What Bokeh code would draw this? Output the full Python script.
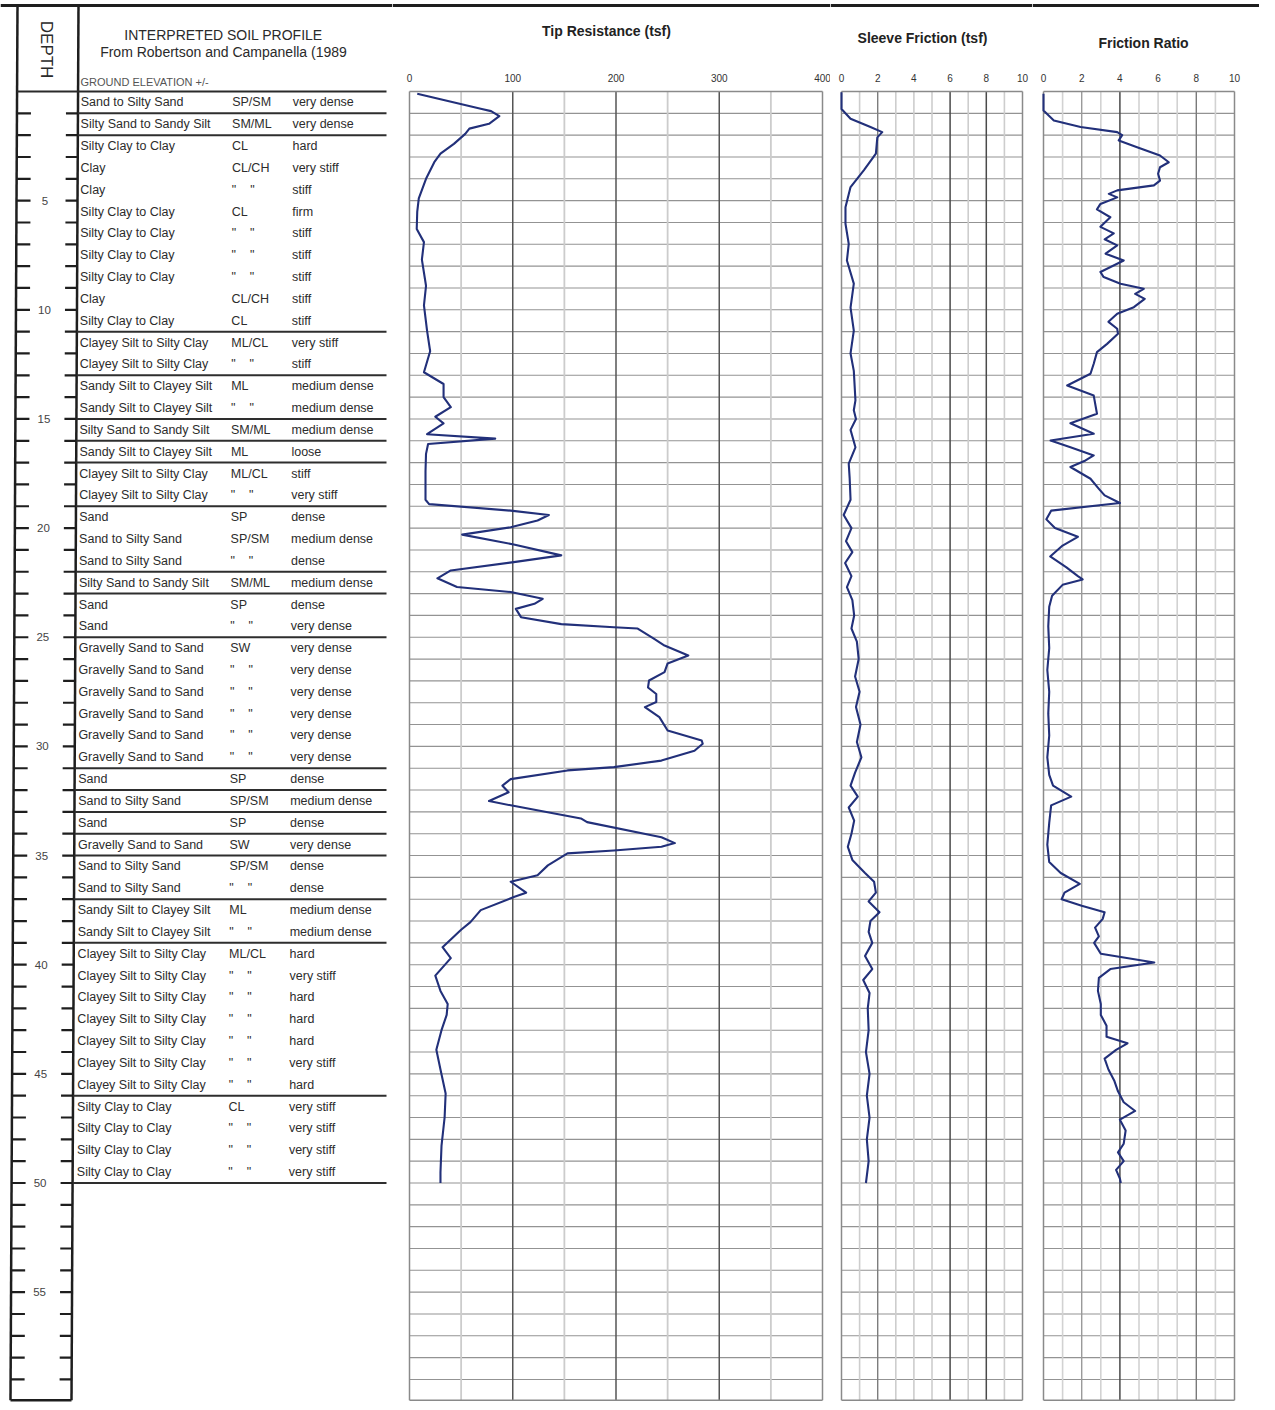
import math
from bokeh.plotting import figure
from bokeh.layouts import row
from bokeh.models import Range1d
from bokeh.core.properties import value
from bokeh.embed import file_html
from bokeh.resources import INLINE

# ------------------------------------------------------------------ data
DIT = '"\u00a0\u00a0\u00a0\u00a0"'
soil_desc = [
    "Sand to Silty Sand", "Silty Sand to Sandy Silt", "Silty Clay to Clay", "Clay", "Clay",
    "Silty Clay to Clay", "Silty Clay to Clay", "Silty Clay to Clay", "Silty Clay to Clay", "Clay",
    "Silty Clay to Clay", "Clayey Silt to Silty Clay", "Clayey Silt to Silty Clay",
    "Sandy Silt to Clayey Silt", "Sandy Silt to Clayey Silt", "Silty Sand to Sandy Silt",
    "Sandy Silt to Clayey Silt", "Clayey Silt to Silty Clay", "Clayey Silt to Silty Clay",
    "Sand", "Sand to Silty Sand", "Sand to Silty Sand", "Silty Sand to Sandy Silt", "Sand", "Sand",
    "Gravelly Sand to Sand", "Gravelly Sand to Sand", "Gravelly Sand to Sand", "Gravelly Sand to Sand",
    "Gravelly Sand to Sand", "Gravelly Sand to Sand", "Sand", "Sand to Silty Sand", "Sand",
    "Gravelly Sand to Sand", "Sand to Silty Sand", "Sand to Silty Sand",
    "Sandy Silt to Clayey Silt", "Sandy Silt to Clayey Silt",
    "Clayey Silt to Silty Clay", "Clayey Silt to Silty Clay", "Clayey Silt to Silty Clay",
    "Clayey Silt to Silty Clay", "Clayey Silt to Silty Clay", "Clayey Silt to Silty Clay",
    "Clayey Silt to Silty Clay", "Silty Clay to Clay", "Silty Clay to Clay", "Silty Clay to Clay",
    "Silty Clay to Clay",
]
soil_uscs = [
    "SP/SM", "SM/ML", "CL", "CL/CH", DIT, "CL", DIT, DIT, DIT, "CL/CH",
    "CL", "ML/CL", DIT, "ML", DIT, "SM/ML", "ML", "ML/CL", DIT, "SP",
    "SP/SM", DIT, "SM/ML", "SP", DIT, "SW", DIT, DIT, DIT, DIT,
    DIT, "SP", "SP/SM", "SP", "SW", "SP/SM", DIT, "ML", DIT, "ML/CL",
    DIT, DIT, DIT, DIT, DIT, DIT, "CL", DIT, DIT, DIT,
]
soil_cons = [
    "very dense", "very dense", "hard", "very stiff", "stiff", "firm", "stiff", "stiff", "stiff", "stiff",
    "stiff", "very stiff", "stiff", "medium dense", "medium dense", "medium dense", "loose", "stiff",
    "very stiff", "dense", "medium dense", "dense", "medium dense", "dense", "very dense",
    "very dense", "very dense", "very dense", "very dense", "very dense", "very dense", "dense",
    "medium dense", "dense", "very dense", "dense", "dense", "medium dense", "medium dense",
    "hard", "very stiff", "hard", "hard", "hard", "very stiff", "hard",
    "very stiff", "very stiff", "very stiff", "very stiff",
]
layer_breaks = [1, 2, 11, 13, 15, 16, 17, 19, 22, 23, 25, 31, 32, 33, 34, 35, 37, 39, 46, 50]
depth_ticks = list(range(1, 60))
depth_labels = [5, 10, 15, 20, 25, 30, 35, 40, 45, 50, 55]

tip_ticks = [0, 100, 200, 300, 400]
sf_ticks = [0, 2, 4, 6, 8, 10]
fr_ticks = [0, 2, 4, 6, 8, 10]

tip_depth = [0.1, 0.8, 0.9, 1.13, 1.48, 1.7, 1.94, 2.4, 2.85, 3.24, 4.0, 4.9, 5.5, 6.3, 6.9, 7.7,
             8.9, 9.8, 10.95, 11.9, 12.86, 13.4, 14.0, 14.46, 14.9, 15.2, 15.7, 15.9, 16.15, 16.6,
             17.4, 18.7, 18.9, 19.2, 19.4, 19.65, 19.96, 20.3, 20.75, 21.25, 21.56, 21.94, 22.3,
             22.7, 22.93, 23.24, 23.47, 23.7, 24.08, 24.4, 24.54, 24.6, 25.07, 25.38, 25.84, 26.2,
             26.6, 26.98, 27.3, 27.6, 27.97, 28.2, 28.66, 29.27, 29.73, 29.88, 30.2, 30.65, 30.95,
             31.1, 31.5, 31.8, 32.1, 32.5, 32.7, 33.3, 33.47, 34.16, 34.43, 34.6, 34.77, 34.9,
             35.45, 35.9, 36.2, 36.7, 36.9, 37.5, 38.05, 38.4, 39.2, 39.7, 40.5, 41.2, 41.8, 42.3,
             43.0, 43.9, 44.8, 45.9, 47.0, 48.3, 49.5, 50.0]
tip_tsf = [7.5, 70, 79, 87, 77, 58, 54, 43, 30, 24, 16, 9, 7.5, 7, 14, 12,
           16, 14, 17, 20, 14, 33, 33, 40, 25, 33, 17, 83, 18, 16,
           15.5, 15.5, 19, 98, 135, 124, 98, 51, 101, 147, 101, 40, 27,
           46, 98, 129, 121, 103, 108, 147, 198, 221, 237, 247, 270, 250,
           247, 232, 231, 239, 239, 228, 242, 250, 283, 284, 276, 244, 198,
           153, 98, 90, 96, 77, 98, 166, 172, 244, 257, 244, 198, 153,
           134, 124, 98, 113, 101, 69, 59, 50, 32, 40, 25, 30, 37, 36,
           31, 26, 30, 35, 34, 31, 30, 30]

sf_depth = [0.03, 0.8, 1.25, 1.63, 1.86, 2.1, 2.85, 3.6, 4.38, 5.3, 6.06, 6.98, 7.74, 8.8, 9.9,
            10.95, 12.0, 12.8, 14.15, 14.6, 15.0, 15.5, 16.3, 17.05, 17.7, 18.7, 19.4, 20.0,
            20.6, 21.1, 21.6, 22.2, 22.7, 23.3, 24.0, 24.6, 25.2, 26.0, 26.8, 27.5, 28.2, 29.0,
            29.8, 30.5, 31.2, 31.8, 32.3, 32.8, 33.4, 34.0, 34.6, 35.2, 35.8, 36.2, 36.7, 37.1,
            37.6, 38.0, 38.5, 39.0, 39.6, 40.2, 40.7, 41.3, 42.0, 43.0, 44.0, 45.0, 46.0, 47.0,
            48.0, 49.0, 50.0]
sf_tsf = [0, 0, 0.5, 1.6, 2.25, 1.98, 1.9, 1.24, 0.5, 0.22, 0.22, 0.4, 0.3, 0.68, 0.5,
          0.68, 0.5, 0.68, 0.77, 0.68, 0.8, 0.5, 0.77, 0.4, 0.45, 0.5, 0.12, 0.55,
          0.25, 0.6, 0.2, 0.55, 0.3, 0.6, 0.7, 0.55, 0.85, 0.95, 0.75, 1.0, 0.8, 1.05,
          0.85, 1.1, 0.75, 0.5, 0.9, 0.4, 0.7, 0.55, 0.35, 0.6, 1.3, 1.8, 1.9, 1.5,
          2.1, 1.6, 1.5, 1.7, 1.3, 1.7, 1.2, 1.55, 1.45, 1.5, 1.35, 1.55, 1.4, 1.55,
          1.4, 1.5, 1.35]

fr_depth = [0.1, 0.87, 1.33, 1.63, 1.86, 2.0, 2.24, 2.55, 2.93, 3.24, 3.47, 3.77, 4.08, 4.3,
            4.53, 4.69, 4.85, 5.15, 5.4, 5.76, 6.2, 6.5, 6.77, 7.05, 7.43, 7.74, 8.27, 8.5,
            8.81, 9.04, 9.27, 9.5, 9.88, 10.18, 10.55, 10.87, 11.1, 11.56, 11.94, 12.47, 12.93,
            13.47, 13.93, 14.76, 15.2, 15.68, 15.99, 16.3, 16.67, 16.9, 17.2, 17.74, 18.2, 18.5,
            18.85, 19.2, 19.6, 20.0, 20.4, 20.8, 21.3, 21.8, 22.2, 22.35, 22.6, 23.1, 23.6, 24.5,
            25.5, 26.5, 27.5, 28.5, 29.5, 30.5, 31.3, 31.8, 32.3, 32.7, 33.5, 34.5, 35.3, 35.8,
            36.3, 36.7, 37.0, 37.3, 37.6, 37.9, 38.3, 38.7, 39.0, 39.5, 39.9, 40.2, 40.6, 41.2,
            41.8, 42.3, 42.8, 43.3, 43.6, 43.9, 44.3, 44.8, 45.3, 45.8, 46.3, 46.7, 47.1, 47.6,
            48.2, 48.6, 49.0, 49.4, 49.8, 50.0]
fr_pct = [0, 0, 0.54, 1.94, 3.86, 4.12, 3.94, 4.9, 6.1, 6.56, 6.1, 6.0, 6.1, 5.78,
          3.86, 3.42, 3.86, 2.98, 2.8, 3.5, 2.98, 3.68, 3.2, 3.86, 3.25, 4.2, 2.98, 3.15,
          4.03, 5.25, 4.8, 5.3, 4.73, 3.86, 3.4, 3.86, 3.9, 3.33, 2.8, 2.63, 2.46,
          1.24, 2.63, 2.8, 1.41, 2.63, 0.37, 1.41, 2.63, 2.2, 1.41, 2.46, 2.9, 3.2,
          4.0, 0.4, 0.15, 0.6, 1.8, 1.0, 0.35, 1.2, 1.8, 2.05, 1.0, 0.45, 0.3, 0.25,
          0.3, 0.2, 0.3, 0.25, 0.3, 0.2, 0.3, 0.5, 1.45, 0.4, 0.3, 0.2, 0.3, 0.9,
          1.9, 1.1, 0.95, 2.0, 3.2, 3.1, 2.7, 2.9, 2.65, 3.0, 5.8, 3.5, 2.9, 2.85,
          3.0, 3.0, 3.3, 3.3, 4.4, 3.8, 3.2, 3.4, 3.7, 3.9, 4.2, 4.8, 4.0, 4.3,
          4.2, 3.9, 4.2, 3.8, 4.0, 4.05]

# ------------------------------------------------------------------ styling
FONT = value("Liberation Sans")
PX_FT = 21.83                      # pixels per foot of depth
D_TOP = -91 / PX_FT                # canvas top
H = 1402
D_BOT = (H - 91) / PX_FT           # canvas bottom
TOPLINE = -86 / PX_FT
FRAME_BOT = 59.95
CURVE = "#22307a"
HGRID = "#939393"


def make_fig(width, x0, x1):
    p = figure(width=width, height=H, x_range=Range1d(x0, x1), y_range=Range1d(D_BOT, D_TOP),
               output_backend="svg", toolbar_location=None, min_border=0,
               x_axis_location=None, y_axis_location=None)
    p.outline_line_color = None
    p.grid.visible = False
    p.background_fill_color = "white"
    p.border_fill_color = "white"
    p.segment(x0=[x0], x1=[x1], y0=[TOPLINE], y1=[TOPLINE], line_color="#1e1e1e", line_width=3)
    return p


# ------------------------------------------------------------------ left: depth + soil profile
# x in this figure is measured in page-like units (0 .. 392)
left = make_fig(392, 0, 392)


def shift(d, amount):
    return -amount * (d - TOPLINE) / (FRAME_BOT - TOPLINE)


def L(d):
    return 17 + shift(d, 7)


def R(d):
    return 78 + shift(d, 7)


# depth column frame
left.segment(x0=[L(TOPLINE), R(TOPLINE), L(FRAME_BOT)], x1=[L(FRAME_BOT), R(FRAME_BOT), R(FRAME_BOT)],
             y0=[TOPLINE, TOPLINE, FRAME_BOT], y1=[FRAME_BOT, FRAME_BOT, FRAME_BOT],
             line_color="#1e1e1e", line_width=2.5)
# header bottom line
left.segment(x0=[L(0)], x1=[386], y0=[0], y1=[0], line_color="#2a2a2a", line_width=2)
# ticks
left.segment(x0=[L(d) for d in depth_ticks], x1=[L(d) + 14 for d in depth_ticks],
             y0=depth_ticks, y1=depth_ticks, line_color="#1e1e1e", line_width=2.2)
left.segment(x0=[R(d) - 12 for d in depth_ticks], x1=[R(d) for d in depth_ticks],
             y0=depth_ticks, y1=depth_ticks, line_color="#1e1e1e", line_width=2.2)
left.text(x=[(L(d) + R(d)) / 2 - 2 for d in depth_labels], y=depth_labels,
          text=[str(d) for d in depth_labels], text_font=FONT, text_font_size="11.5px",
          text_align="center", text_baseline="middle", text_color="#444444")
left.text(x=[46], y=[-1.92], text=["DEPTH"], angle=-math.pi / 2, text_font=FONT,
          text_font_size="17px", text_align="center", text_baseline="middle", text_color="#2a2a2a")

# profile header
left.text(x=[223, 223], y=[-2.57, -1.79],
          text=["INTERPRETED SOIL PROFILE", "From Robertson and Campanella (1989"],
          text_font=FONT, text_font_size="14px", text_align="center", text_baseline="middle",
          text_color="#2a2a2a")
left.text(x=[80], y=[-0.42], text=["GROUND ELEVATION +/-"], text_font=FONT, text_font_size="11px",
          text_align="left", text_baseline="middle", text_color="#555555")

# rows
row_y = [i + 0.5 for i in range(len(soil_desc))]
for xpos, col in ((80.5, soil_desc), (232, soil_uscs), (292.5, soil_cons)):
    left.text(x=[xpos + shift(y, 5) for y in row_y], y=row_y, text=col, text_font=FONT,
              text_font_size="12.5px", text_align="left", text_baseline="middle",
              text_color="#2c2c2c")
# layer boundaries
left.segment(x0=[R(b) for b in layer_breaks], x1=[386] * len(layer_breaks),
             y0=layer_breaks, y1=layer_breaks, line_color="#2e2e2e", line_width=2)


# ------------------------------------------------------------------ data panels
def panel(p, xmax, vlines, ticks, title, title_x, title_y, dep, val):
    hd = list(range(1, 60))
    p.segment(x0=[0] * len(hd), x1=[xmax] * len(hd), y0=hd, y1=hd, line_color=HGRID, line_width=1.1)
    for xv, col, w in vlines:
        p.segment(x0=[xv], x1=[xv], y0=[0], y1=[FRAME_BOT], line_color=col, line_width=w)
    p.segment(x0=[0, xmax, 0, 0], x1=[0, xmax, xmax, xmax], y0=[0, 0, 0, FRAME_BOT],
              y1=[FRAME_BOT, FRAME_BOT, 0, FRAME_BOT], line_color="#8a8a8a", line_width=1.5)
    p.text(x=ticks, y=[-0.64] * len(ticks), text=[str(t) for t in ticks], text_font=FONT,
           text_font_size="10px", text_align="center", text_baseline="middle", text_color="#333333")
    p.text(x=[title_x], y=[title_y], text=[title], text_font=FONT, text_font_size="14px",
           text_font_style="bold", text_align="center", text_baseline="middle", text_color="#222222")
    p.line(val, dep, line_color=CURVE, line_width=2.1, line_join="round")


# tip resistance: 0 at page x 409, 400 at 822
tk = 413 / 400.0
tip = make_fig(438, (392 - 409) / tk, (830 - 409) / tk)
tip_v = []
for xv in range(50, 400, 50):
    if xv % 100 == 0:
        tip_v.append((xv, "#555555", 1.5))
    else:
        tip_v.append((xv, "#cccccc", 1.8))
panel(tip, 400, tip_v, tip_ticks, "Tip Resistance (tsf)", (606 - 409) / tk, -2.79, tip_depth, tip_tsf)

# sleeve friction: 0 at 841, 10 at 1022
sk = 181 / 10.0
sf = make_fig(202, (830 - 841) / sk, (1032 - 841) / sk)
sf_col = {2: ("#7d7d7d", 1.4), 6: ("#4a4a4a", 1.5), 8: ("#4a4a4a", 1.5)}
sf_v = [(i, *sf_col.get(i, ("#cdcdcd", 1.6))) for i in range(1, 10)]
panel(sf, 10, sf_v, sf_ticks, "Sleeve Friction (tsf)", (922 - 841) / sk, -2.47, sf_depth, sf_tsf)

# friction ratio: 0 at 1043, 10 at 1234
rk = 191 / 10.0
fr = make_fig(227, (1032 - 1043) / rk, (1259 - 1043) / rk)
fr_col = {2: ("#9a9a9a", 1.4), 4: ("#4a4a4a", 1.5), 8: ("#7a7a7a", 1.4)}
fr_v = [(i, *fr_col.get(i, ("#d2d2d2", 1.6))) for i in range(1, 10)]
panel(fr, 10, fr_v, fr_ticks, "Friction Ratio", (1143 - 1043) / rk, -2.24, fr_depth, fr_pct)

layout = row(left, tip, sf, fr, spacing=0)
open("out.html", "w").write(file_html(layout, INLINE))
